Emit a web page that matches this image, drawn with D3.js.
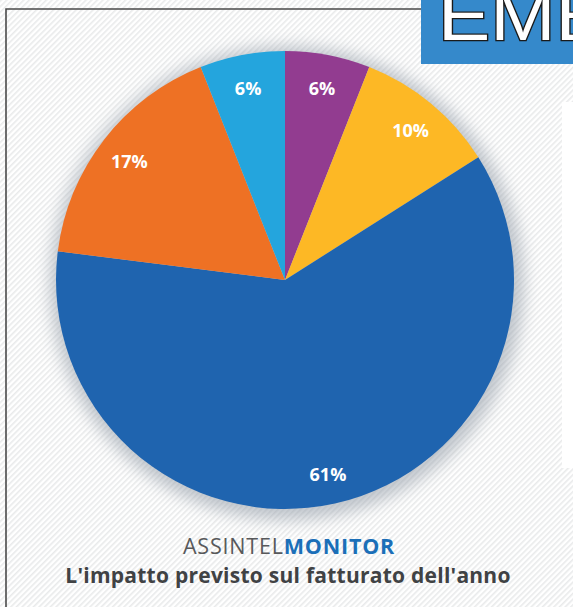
<!DOCTYPE html>
<html>
<head>
<meta charset="utf-8">
<script src="https://cdn.jsdelivr.net/npm/d3@7"></script>
<style>
  html, body { margin: 0; padding: 0; background: #fff; }
  svg { display: block; }
</style>
</head>
<body>
<svg id="chart" width="573" height="607"></svg>
<script>
// slices clockwise from 12 o'clock
const categories = ['Viola', 'Giallo', 'Blu', 'Arancio', 'Azzurro']
const values = [6, 10, 61, 17, 6]
const sliceColors = ['#923c90', '#fdb825', '#1f64af', '#ee7124', '#24a5dd']
const titleGray = 'ASSINTEL'
const titleBlue = 'MONITOR'
const subtitle = "L'impatto previsto sul fatturato dell'anno"

let svg = d3.select('#chart'),
    width = +svg.attr('width'),
    height = +svg.attr('height')

let defs = svg.append('defs')

// diagonal stripes of the paper background
let pattern = defs.append('pattern')
    .attr('id', 'stripes')
    .attr('width', 4)
    .attr('height', 4)
    .attr('patternUnits', 'userSpaceOnUse')
    .attr('patternTransform', 'rotate(45)')
pattern.append('rect').attr('width', 4).attr('height', 4).attr('fill', '#ffffff')
pattern.append('rect').attr('width', 1.6).attr('height', 4).attr('fill', '#e9eaeb')

defs.append('filter')
    .attr('id', 'soft')
    .attr('x', '-20%').attr('y', '-20%').attr('width', '140%').attr('height', '140%')
    .append('feGaussianBlur')
    .attr('stdDeviation', 8)

defs.append('clipPath').attr('id', 'boxclip')
    .append('rect').attr('x', 421).attr('y', 0).attr('width', 152).attr('height', 64)

svg.append('rect')
    .attr('width', width)
    .attr('height', height)
    .attr('fill', 'url(#stripes)')

// frame
svg.append('path')
    .attr('d', 'M6,607 L6,9 L425,9')
    .attr('fill', 'none')
    .attr('stroke', '#4a4a4a')
    .attr('stroke-width', 1.6)

// white panel on the right
svg.append('rect')
    .attr('x', 562).attr('y', 102)
    .attr('width', 12).attr('height', 366)
    .attr('fill', '#ffffff')

// blue heading box, cut by the picture edge
let box = svg.append('g').attr('clip-path', 'url(#boxclip)')
box.append('rect')
    .attr('x', 421).attr('y', 0)
    .attr('width', 152).attr('height', 64)
    .attr('fill', '#3589cb')
box.append('g')
    .attr('transform', 'translate(438,40) scale(1.12,1)')
    .append('text')
    .style('font-family', 'Liberation Sans, Arial, sans-serif')
    .style('font-size', '70px')
    .attr('fill', '#ffffff')
    .attr('stroke', '#1a1a1a')
    .attr('stroke-width', 2.5)
    .attr('paint-order', 'stroke')
    .text('EMERGENZA')

// pie
let cx = 285, cy = 280, r = 229

let g = svg.append('g').attr('transform', 'translate(' + cx + ',' + cy + ')')

g.append('circle')
    .attr('cx', 2).attr('cy', 3)
    .attr('r', r + 8)
    .attr('fill', '#9aa3ad')
    .attr('opacity', 0.6)
    .attr('filter', 'url(#soft)')

let pie = d3.pie().sort(null).value(function (d) { return d })
let arc = d3.arc().innerRadius(0).outerRadius(r)
let labelArc = d3.arc().innerRadius(197).outerRadius(197)

let slices = pie(values)

g.selectAll('.slice')
    .data(slices)
    .enter().append('path')
    .attr('class', 'slice')
    .attr('d', arc)
    .attr('fill', function (d, i) { return sliceColors[i] })

g.selectAll('.lbl')
    .data(slices)
    .enter().append('text')
    .attr('class', 'lbl')
    .attr('transform', function (d) { return 'translate(' + labelArc.centroid(d) + ')' })
    .attr('text-anchor', 'middle')
    .attr('dy', '0.5em')
    .style('font-family', 'Open Sans, sans-serif')
    .style('font-weight', 'bold')
    .style('font-size', '18px')
    .attr('fill', '#ffffff')
    .text(function (d) { return d.data + '%' })

// titles
let t1 = svg.append('text')
    .attr('x', 289)
    .attr('y', 554)
    .attr('text-anchor', 'middle')
    .style('font-family', 'Open Sans, sans-serif')
    .style('font-size', '21.5px')
    .style('letter-spacing', '0.8px')
t1.append('tspan').attr('fill', '#58595b').text(titleGray)
t1.append('tspan').attr('fill', '#1b6fb8').style('font-weight', 'bold').text(titleBlue)

svg.append('text')
    .attr('x', 288)
    .attr('y', 582.5)
    .attr('text-anchor', 'middle')
    .style('font-family', 'Open Sans, sans-serif')
    .style('font-weight', 'bold')
    .style('font-size', '21px')
    .style('letter-spacing', '0.25px')
    .attr('fill', '#404244')
    .text(subtitle)
</script>
</body>
</html>
